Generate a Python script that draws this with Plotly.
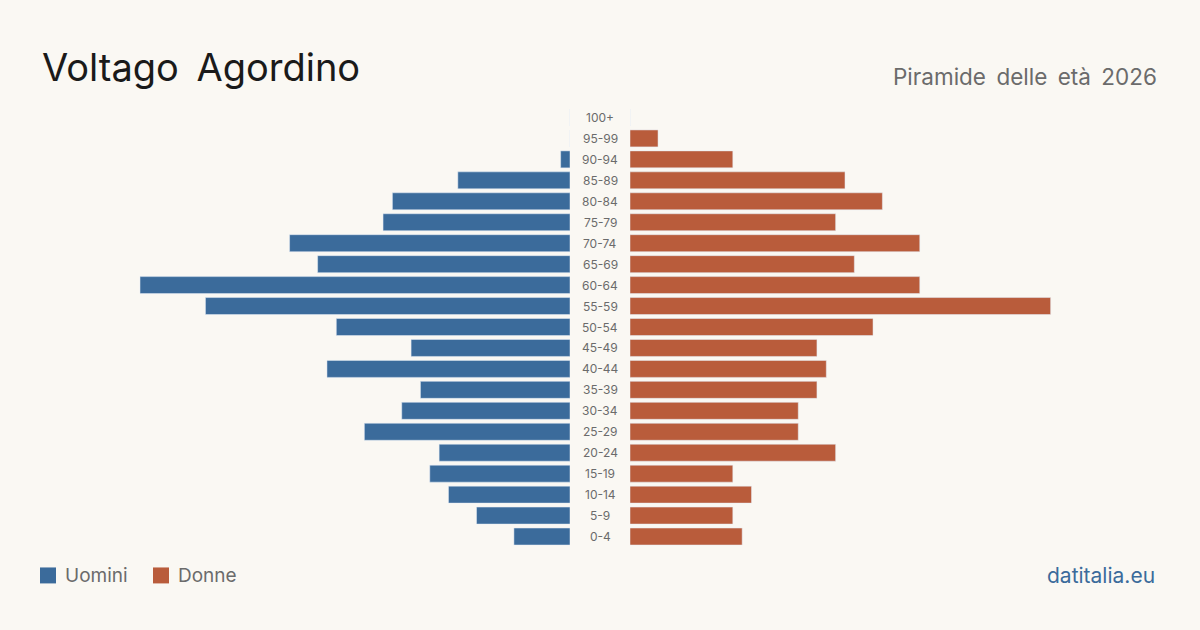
import plotly.graph_objects as go

ages = ["0-4", "5-9", "10-14", "15-19", "20-24", "25-29", "30-34", "35-39", "40-44", "45-49",
        "50-54", "55-59", "60-64", "65-69", "70-74", "75-79", "80-84", "85-89", "90-94", "95-99", "100+"]
uomini = [6, 10, 13, 15, 14, 22, 18, 16, 26, 17, 25, 39, 46, 27, 30, 20, 19, 12, 1, 0, 0]
donne = [12, 11, 13, 11, 22, 18, 18, 20, 21, 20, 26, 45, 31, 24, 31, 22, 27, 23, 11, 3, 0]

BLUE = "#3b6b9b"
ORANGE = "#b95c3b"
BG = "#faf8f3"
FONT = "Inter"

W, H = 1200, 630
L, R, T, B = 40, 40, 106.5, 82.5
pw = W - L - R
side = 530
rng = 56.7

fig = go.Figure()
fig.add_trace(go.Bar(y=ages, x=uomini, orientation="h", marker_color=BLUE,
                     xaxis="x", yaxis="y", name="Uomini", hoverinfo="x+y"))
fig.add_trace(go.Bar(y=ages, x=donne, orientation="h", marker_color=ORANGE,
                     xaxis="x2", yaxis="y", name="Donne", hoverinfo="x+y"))

annotations = []
for a in ages:
    annotations.append(dict(x=0.5, xref="paper", y=a, yref="y", text=a, showarrow=False,
                            font=dict(family=FONT, size=12, color="#6b6b6b"),
                            xanchor="center", yanchor="middle"))


def px(xp):
    return (xp - L) / pw


def py(yp):
    return (H - B - yp) / (H - T - B)


annotations += [
    dict(x=px(40), y=py(66), xref="paper", yref="paper", text="Voltago&#8201; Agordino", showarrow=False,
         xanchor="left", yanchor="middle", font=dict(family=FONT, size=38, color="#1a1a1a")),
    dict(x=px(1159), y=py(76), xref="paper", yref="paper",
         text="Piramide&#8201; delle&#8201; età&#8201; 2026", showarrow=False,
         xanchor="right", yanchor="middle", font=dict(family=FONT, size=22.5, color="#6b6b6b")),
    dict(x=px(63), y=py(576), xref="paper", yref="paper", text="Uomini", showarrow=False,
         xanchor="left", yanchor="middle", font=dict(family=FONT, size=19, color="#6b6b6b")),
    dict(x=px(176), y=py(576), xref="paper", yref="paper", text="Donne", showarrow=False,
         xanchor="left", yanchor="middle", font=dict(family=FONT, size=19, color="#6b6b6b")),
    dict(x=px(1157), y=py(576), xref="paper", yref="paper", text="datitalia.eu", showarrow=False,
         xanchor="right", yanchor="middle", font=dict(family=FONT, size=21, color=BLUE)),
]

shapes = [
    dict(type="rect", xref="paper", yref="paper", x0=px(40), x1=px(56), y0=py(568), y1=py(584),
         fillcolor=BLUE, line=dict(width=0)),
    dict(type="rect", xref="paper", yref="paper", x0=px(153), x1=px(169), y0=py(568), y1=py(584),
         fillcolor=ORANGE, line=dict(width=0)),
]

fig.update_layout(
    width=W, height=H,
    margin=dict(l=L, r=R, t=T, b=B),
    paper_bgcolor=BG, plot_bgcolor=BG,
    showlegend=False,
    bargap=0.19,
    xaxis=dict(domain=[0, side / pw], range=[rng, 0], visible=False, fixedrange=True),
    xaxis2=dict(domain=[1 - side / pw, 1], range=[0, rng], visible=False, fixedrange=True),
    yaxis=dict(categoryorder="array", categoryarray=ages, range=[-0.5, 20.5],
               visible=False, fixedrange=True),
    annotations=annotations,
    shapes=shapes,
    font=dict(family=FONT),
)

fig.write_html("out.html")
